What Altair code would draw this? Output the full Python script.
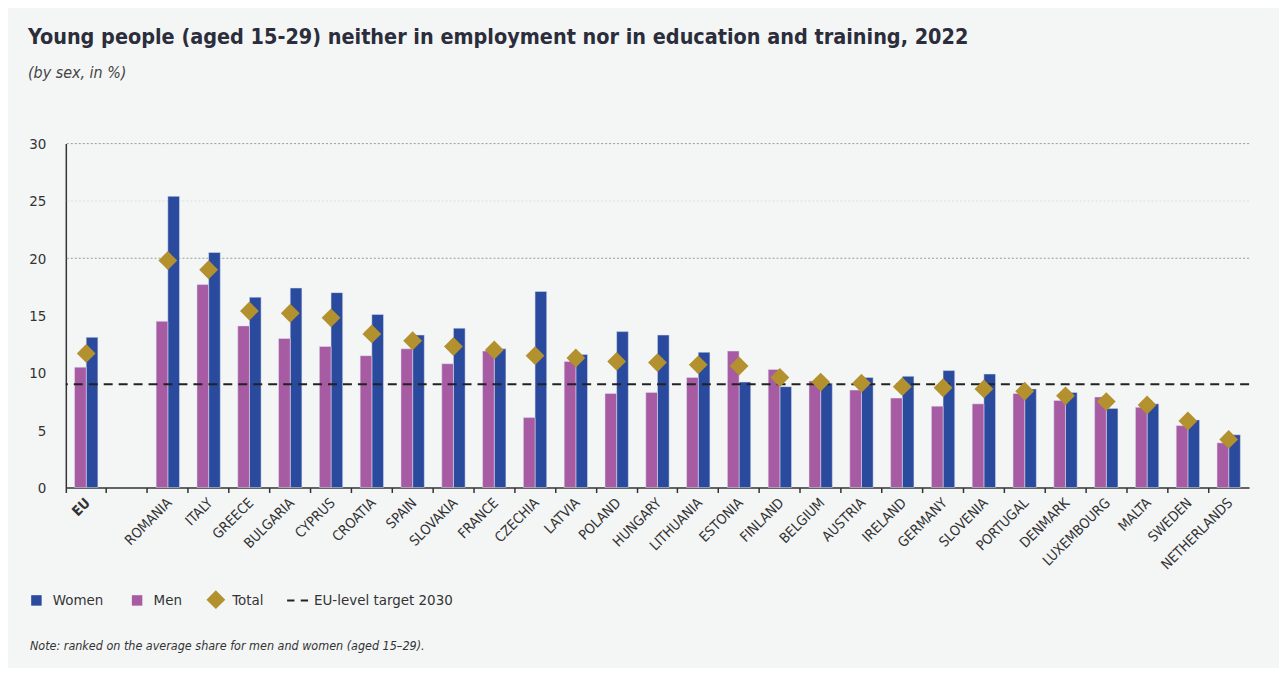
import altair as alt
import pandas as pd

# ---------------- data ----------------
countries = ["EU", "ROMANIA", "ITALY", "GREECE", "BULGARIA", "CYPRUS", "CROATIA", "SPAIN",
             "SLOVAKIA", "FRANCE", "CZECHIA", "LATVIA", "POLAND", "HUNGARY", "LITHUANIA",
             "ESTONIA", "FINLAND", "BELGIUM", "AUSTRIA", "IRELAND", "GERMANY", "SLOVENIA",
             "PORTUGAL", "DENMARK", "LUXEMBOURG", "MALTA", "SWEDEN", "NETHERLANDS"]
women = [13.1, 25.4, 20.5, 16.6, 17.4, 17.0, 15.1, 13.3, 13.9, 12.1, 17.1, 11.6, 13.6, 13.3,
         11.8, 9.2, 8.8, 9.1, 9.6, 9.7, 10.2, 9.9, 8.6, 8.3, 6.9, 7.3, 5.9, 4.6]
men = [10.5, 14.5, 17.7, 14.1, 13.0, 12.3, 11.5, 12.1, 10.8, 11.9, 6.1, 11.0, 8.2, 8.3,
       9.6, 11.9, 10.3, 9.3, 8.5, 7.8, 7.1, 7.3, 8.2, 7.6, 7.9, 7.0, 5.4, 3.9]
total = [11.7, 19.8, 19.0, 15.4, 15.2, 14.8, 13.4, 12.8, 12.3, 12.0, 11.5, 11.3, 11.0, 10.9,
         10.7, 10.6, 9.6, 9.2, 9.1, 8.8, 8.7, 8.6, 8.4, 8.0, 7.5, 7.2, 5.8, 4.2]
gap_label = " "
target_2030 = [9.0]
grid_levels = [20, 25, 30]
y_ticks = [0, 5, 10, 15, 20, 25, 30]
series_names = ["Women", "Men", "Total", "EU-level target 2030"]
title_text = "Young people (aged 15-29) neither in employment nor in education and training, 2022"
subtitle_text = "(by sex, in %)"
note_text = "Note: ranked on the average share for men and women (aged 15\u201329)."

# ---------------- styles ----------------
FONT = "Liberation Sans Narrow, DejaVu Sans Condensed, Roboto Condensed, sans-serif"
series_colors = ["#2a4a9e", "#a65ba3", "#b3912f", "#222222"]
SQUARE = "M-0.5,-0.5H0.5V0.5H-0.5Z"
DIAMOND = "M-0.9,0L0,-0.9L0.9,0L0,0.9Z"
DASHES = "M-1,-0.1H-0.3V0.1H-1Z M0.3,-0.1H1V0.1H0.3Z"
series_shapes = [SQUARE, SQUARE, DIAMOND, DASHES]

x_domain = [countries[0], gap_label] + countries[1:]

rows = []
for c, w, m, t in zip(countries, women, men, total):
    rows.append({"country": c, "series": "Women", "value": w})
    rows.append({"country": c, "series": "Men", "value": m})
    rows.append({"country": c, "series": "Total", "value": t})
df = pd.DataFrame(rows)

x_scale = alt.Scale(domain=x_domain, paddingInner=0, paddingOuter=0)
x_axis = alt.Axis(
    title=None, bandPosition=0, labelAngle=-45, labelAlign="right",
    labelBaseline="middle", labelOffset=2, labelPadding=8, tickSize=5,
    tickWidth=1.5, tickColor="#333333", domainColor="#333333", domainWidth=1.5,
    labelFont=FONT, labelFontSize=14, labelColor="#333333", grid=False,
    labelFontWeight=alt.ExprRef("datum.value == 'EU' ? 'bold' : 'normal'"),
)
y_scale = alt.Scale(domain=[0, 30], nice=False)
y_axis = alt.Axis(title=None, values=y_ticks, grid=False, ticks=False,
                  domainColor="#333333", domainWidth=1.5, labelPadding=20,
                  labelFont=FONT, labelFontSize=15, labelColor="#333333")
color_scale = alt.Scale(domain=series_names, range=series_colors)
shape_scale = alt.Scale(domain=series_names, range=series_shapes)

legend = alt.Legend(
    title=None, orient="none", legendX=-40, legendY=447, direction="horizontal",
    labelFont=FONT, labelFontSize=15, labelColor="#333333", columnPadding=23,
    labelOffset=6, symbolSize=441, symbolStrokeWidth=0, padding=0,
    symbolType=DIAMOND,
)

base = alt.Chart(df)

grid = alt.Chart(pd.DataFrame({"level": grid_levels})).mark_rule(
    strokeDash=[2, 2], strokeWidth=1
).encode(
    y=alt.Y("level:Q", scale=y_scale, axis=y_axis),
    color=alt.condition(alt.datum.level == 25, alt.value("#dddddd"), alt.value("#9a9a9a")),
)

bars = base.transform_filter(alt.datum.series != "Total").mark_bar(
    stroke="#dfe3f0", strokeWidth=0.5
).encode(
    x=alt.X("country:N", scale=x_scale, axis=x_axis),
    xOffset=alt.XOffset("series:N", scale=alt.Scale(domain=["Men", "Women"],
                                                    paddingInner=0, paddingOuter=0.75)),
    y=alt.Y("value:Q", scale=y_scale, axis=y_axis),
    color=alt.Color("series:N", scale=color_scale, legend=legend),
)

rule = alt.Chart(pd.DataFrame({"target": target_2030})).mark_rule(
    color="#222222", strokeWidth=2, strokeDash=[9, 6]
).encode(y=alt.Y("target:Q", scale=y_scale, axis=y_axis))

diamonds = base.transform_filter(alt.datum.series == "Total").mark_point(
    filled=True, opacity=1, size=441
).encode(
    x=alt.X("country:N", scale=x_scale, axis=x_axis),
    y=alt.Y("value:Q", scale=y_scale, axis=y_axis),
    color=alt.Color("series:N", scale=color_scale, legend=legend),
    shape=alt.Shape("series:N", scale=shape_scale, legend=legend),
)

note = alt.Chart(pd.DataFrame({"note": [note_text]})).mark_text(
    align="left", baseline="alphabetic", font=FONT, fontStyle="italic",
    fontSize=12.5, color="#333333"
).encode(x=alt.value(-36), y=alt.value(508), text="note:N")

chart = alt.layer(grid, bars, rule, diamonds, note).properties(
    width=1187, height=345,
    autosize=alt.AutoSizeParams(type="none"),
    padding={"left": 58, "top": 135, "right": 30, "bottom": 180},
    title=alt.TitleParams(
        text=title_text, subtitle=subtitle_text, anchor="start", frame="group",
        dx=-38, offset=56, font=FONT, fontSize=21.5, fontWeight="bold", color="#2b2d3b",
        subtitleFont=FONT, subtitleFontSize=16, subtitleFontStyle="italic",
        subtitleColor="#444444", subtitlePadding=16,
    ),
).configure(background="#f4f6f6").configure_view(stroke=None)

chart.save("out.html", embed_options={"renderer": "svg", "actions": False})
